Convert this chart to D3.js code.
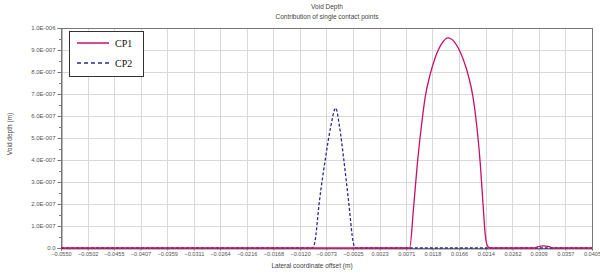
<!DOCTYPE html>
<html>
<head>
<meta charset="utf-8">
<script src="https://cdn.jsdelivr.net/npm/d3@7"></script>
<style>
  body { margin: 0; background: #fff; }
  svg { display: block; font-family: "Liberation Sans", Arial, sans-serif; }
</style>
</head>
<body>
<svg id="chart" width="600" height="280"></svg>
<script>
// data
const cp1X = [-0.0550, 0.0070, 0.0077, 0.0084, 0.0091, 0.0098, 0.0105, 0.0114, 0.0123, 0.0135, 0.0146, 0.0158, 0.0173, 0.0183, 0.0191, 0.0198, 0.0204, 0.0209, 0.0213, 0.0217, 0.0222, 0.0300, 0.0308, 0.0318, 0.0328, 0.0336, 0.0405];
const cp1Y = [0, 0, 0, 0.18e-6, 0.386e-6, 0.55e-6, 0.686e-6, 0.79e-6, 0.865e-6, 0.93e-6, 0.955e-6, 0.935e-6, 0.86e-6, 0.78e-6, 0.686e-6, 0.55e-6, 0.386e-6, 0.2e-6, 0.06e-6, 0.01e-6, 0, 0, 0.006e-6, 0.01e-6, 0.006e-6, 0, 0];
const cp2X = [-0.0550, -0.0098, -0.0094, -0.0085, -0.0074, -0.0065, -0.0056, -0.0049, -0.0042, -0.0033, -0.0024, -0.0020, 0.0405];
const cp2Y = [0, 0, 0.02e-6, 0.218e-6, 0.414e-6, 0.55e-6, 0.636e-6, 0.55e-6, 0.414e-6, 0.218e-6, 0.02e-6, 0, 0];
const xTicks = [-0.0550, -0.0502, -0.0455, -0.0407, -0.0359, -0.0311, -0.0264, -0.0216, -0.0168, -0.0120, -0.0073, -0.0025, 0.0023, 0.0071, 0.0118, 0.0166, 0.0214, 0.0262, 0.0309, 0.0357, 0.0405];
const yTicks = [0, 1e-7, 2e-7, 3e-7, 4e-7, 5e-7, 6e-7, 7e-7, 8e-7, 9e-7, 1e-6];
const yTickLabels = ["0.0", "1.0E-007", "2.0E-007", "3.0E-007", "4.0E-007", "5.0E-007", "6.0E-007", "7.0E-007", "8.0E-007", "9.0E-007", "1.0E-006"];
const seriesNames = ["CP1", "CP2"];

const margin = { top: 28, right: 8, bottom: 32, left: 61 };
const width = 600, height = 280;
const svg = d3.select("#chart");

const x = d3.scaleLinear()
  .domain([xTicks[0], xTicks[xTicks.length - 1]])
  .range([margin.left, width - margin.right]);
const y = d3.scaleLinear()
  .domain([0, 1e-6])
  .range([height - margin.bottom, margin.top]);

// grid
svg.append("g")
  .attr("stroke", "#d9d9d9")
  .attr("stroke-width", 1)
  .selectAll("line.v")
  .data(xTicks)
  .join("line")
  .attr("x1", d => Math.round(x(d)) + 0.5)
  .attr("x2", d => Math.round(x(d)) + 0.5)
  .attr("y1", margin.top)
  .attr("y2", height - margin.bottom);
svg.append("g")
  .attr("stroke", "#d9d9d9")
  .attr("stroke-width", 1)
  .selectAll("line.h")
  .data(yTicks)
  .join("line")
  .attr("x1", margin.left)
  .attr("x2", width - margin.right)
  .attr("y1", d => Math.round(y(d)) + 0.5)
  .attr("y2", d => Math.round(y(d)) + 0.5);

// frame
svg.append("rect")
  .attr("x", margin.left + 0.5)
  .attr("y", margin.top + 0.5)
  .attr("width", width - margin.right - margin.left)
  .attr("height", height - margin.bottom - margin.top)
  .attr("fill", "none")
  .attr("stroke", "#777");

// y axis
const yAxis = svg.append("g")
  .attr("transform", `translate(${margin.left + 0.5},0)`)
  .call(d3.axisLeft(y)
    .tickValues(yTicks)
    .tickFormat((d, i) => yTickLabels[i])
    .tickSize(4)
    .tickPadding(2));
yAxis.call(g => g.select(".domain").attr("stroke", "#777"));
yAxis.selectAll(".tick line").attr("stroke", "#777");
yAxis.selectAll("text").attr("fill", "#555").style("font-size", "6px");
// minor ticks
svg.append("g")
  .attr("stroke", "#777")
  .selectAll("line")
  .data(yTicks.slice(1).map(d => d - 0.5e-7))
  .join("line")
  .attr("x1", margin.left - 2)
  .attr("x2", margin.left)
  .attr("y1", d => Math.round(y(d)) + 0.5)
  .attr("y2", d => Math.round(y(d)) + 0.5);

// x axis
const xAxis = svg.append("g")
  .attr("transform", `translate(0,${height - margin.bottom + 0.5})`)
  .call(d3.axisBottom(x)
    .tickValues(xTicks)
    .tickFormat(d3.format(".4f"))
    .tickSize(2)
    .tickPadding(2));
xAxis.call(g => g.select(".domain").attr("stroke", "#777"));
xAxis.selectAll(".tick line").attr("stroke", "#777");
xAxis.selectAll("text").attr("fill", "#555").style("font-size", "5.6px");

// lines
const line = d3.line()
  .x(d => x(d[0]))
  .y(d => y(d[1]))
  .curve(d3.curveMonotoneX);

svg.append("path")
  .datum(cp2X.map((d, i) => [d, cp2Y[i]]))
  .attr("fill", "none")
  .attr("stroke", "#2b2b8c")
  .attr("stroke-width", 1.3)
  .attr("stroke-dasharray", "3,2")
  .attr("d", line);

svg.append("path")
  .datum(cp1X.map((d, i) => [d, cp1Y[i]]))
  .attr("fill", "none")
  .attr("stroke", "#c8106a")
  .attr("stroke-width", 1.3)
  .attr("d", line);

// titles
svg.append("text")
  .attr("x", 327).attr("y", 9)
  .attr("text-anchor", "middle")
  .attr("fill", "#444")
  .style("font-size", "6.5px")
  .text("Void Depth");
svg.append("text")
  .attr("x", 327).attr("y", 19)
  .attr("text-anchor", "middle")
  .attr("fill", "#444")
  .style("font-size", "6.5px")
  .text("Contribution of single contact points");
svg.append("text")
  .attr("x", 312).attr("y", 268)
  .attr("text-anchor", "middle")
  .attr("fill", "#444")
  .style("font-size", "6.5px")
  .text("Lateral coordinate offset (m)");
svg.append("text")
  .attr("transform", "translate(12,134) rotate(-90)")
  .attr("text-anchor", "middle")
  .attr("fill", "#444")
  .style("font-size", "6.5px")
  .text("Void depth (m)");

// legend
const legend = svg.append("g").attr("transform", "translate(69,31)");
legend.append("rect")
  .attr("x", 0.5).attr("y", 0.5)
  .attr("width", 74).attr("height", 45)
  .attr("fill", "#fff")
  .attr("stroke", "#333");
const colors = ["#c8106a", "#2b2b8c"];
const dashes = [null, "4,3"];
seriesNames.forEach((name, i) => {
  const ly = 12 + i * 20;
  legend.append("line")
    .attr("x1", 8).attr("x2", 40)
    .attr("y1", ly).attr("y2", ly)
    .attr("stroke", colors[i])
    .attr("stroke-width", 1.5)
    .attr("stroke-dasharray", dashes[i]);
  legend.append("text")
    .attr("x", 46).attr("y", ly + 3.5)
    .attr("fill", "#111")
    .style("font-family", "'Liberation Serif', 'Times New Roman', serif")
    .style("font-size", "10px")
    .text(name);
});
</script>
</body>
</html>
